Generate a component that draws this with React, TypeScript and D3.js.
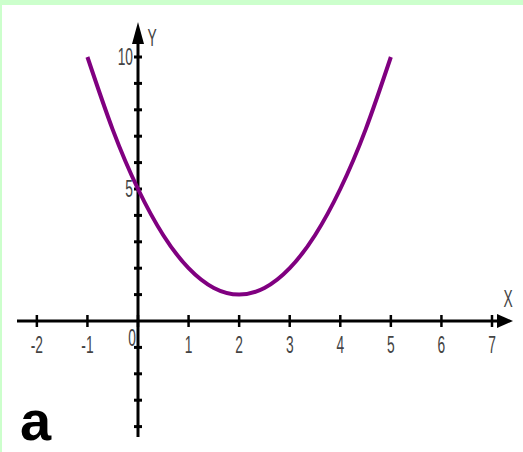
import React from "react";
import * as d3 from "d3";

const xTicks = [-2, -1, 0, 1, 2, 3, 4, 5, 6, 7];
const yTicks = [-4, -3, -2, -1, 1, 2, 3, 4, 5, 6, 7, 8, 9, 10];
const yLabels = [5, 10];
const curveX = [-1, -0.5, 0, 0.5, 1, 1.5, 2, 2.5, 3, 3.5, 4, 4.5, 5];
const curveY = [10, 7.25, 5, 3.25, 2, 1.25, 1, 1.25, 2, 3.25, 5, 7.25, 10];

const W = 523, H = 452;

export default function App() {
  const x = d3.scaleLinear().domain([0, 7]).range([138, 492]);
  const y = d3.scaleLinear().domain([0, 10]).range([321, 57]);
  const pts = curveX.map((v, i) => [v, curveY[i]] as [number, number]);
  const line = d3.line<[number, number]>().x(d => x(d[0])).y(d => y(d[1])).curve(d3.curveNatural);
  const x0 = x(0), y0 = y(0);
  const font = "'Liberation Sans', Arial, sans-serif";
  const lbl = (tx: number, ty: number, s: string, anchor: string = "middle", key?: any) => (
    <text key={key} transform={`translate(${tx},${ty}) scale(0.6,1)`} textAnchor={anchor as any}
      fontFamily={font} fontSize={23} fill="#444">{s}</text>
  );
  return (
    <div style={{ position: "fixed", left: 0, top: 0 }}>
      <svg width={W} height={H} style={{ display: "block" }}>
        <rect x={0} y={0} width={W} height={H} fill="#ccffcc" />
        <rect x={2} y={5} width={W - 2} height={H - 5} fill="#ffffff" />
        {/* x axis */}
        <line x1={17} x2={500} y1={y0} y2={y0} stroke="#000" strokeWidth={3} />
        <path d={`M${513},${y0} L${497},${y0 - 7} L${497},${y0 + 7} Z`} fill="#000" />
        {xTicks.map(t => (
          <line key={"xt" + t} x1={x(t)} x2={x(t)} y1={y0 - 6} y2={y0 + 6} stroke="#000" strokeWidth={2.5} />
        ))}
        {/* y axis */}
        <line x1={x0} x2={x0} y1={437} y2={40} stroke="#000" strokeWidth={3} />
        <path d={`M${x0},${22} L${x0 - 6},${44} L${x0 + 6},${44} Z`} fill="#000" />
        {yTicks.map(t => (
          <line key={"yt" + t} x1={x0 - 4} x2={x0 + 4} y1={y(t)} y2={y(t)} stroke="#000" strokeWidth={3} />
        ))}
        {/* curve */}
        <path d={line(pts) || ""} fill="none" stroke="#800080" strokeWidth={4} />
        {/* labels */}
        {xTicks.filter(t => t !== 0).map(t => lbl(x(t), 353, String(t), "middle", "xl" + t))}
        {lbl(x0 - 6, 346, "0", "middle", "zero")}
        {yLabels.map(t => lbl(x0 - 5, y(t) + 8, String(t), "end", "yl" + t))}
        {lbl(x0 + 14, 46, "Y", "middle", "Y")}
        {lbl(508, 307, "X", "middle", "X")}
        <text x={20} y={440} fontFamily={font} fontWeight="bold" fontSize={56} fill="#000">a</text>
      </svg>
    </div>
  );
}
